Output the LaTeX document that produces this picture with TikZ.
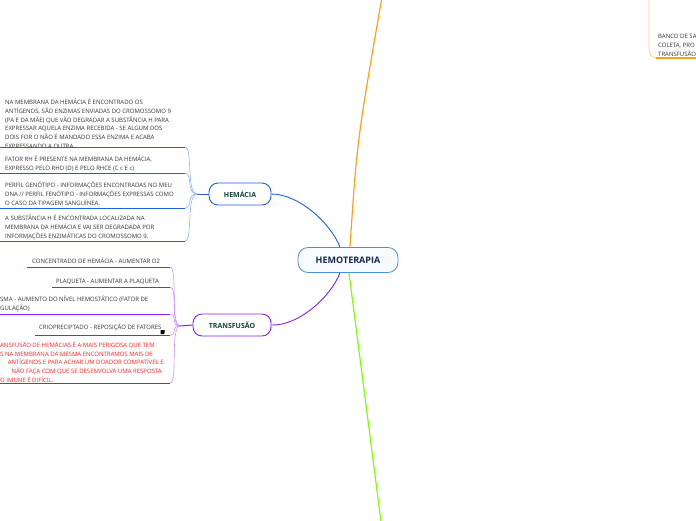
\documentclass[tikz,border=0pt]{standalone}
\usepackage{fontspec}
\setmainfont{Open Sans}
\usepackage{tikz}
\usetikzlibrary{positioning,calc}
\definecolor{hemoblue}{HTML}{4A90D9}
\definecolor{hemofill}{HTML}{F7FBFF}
\definecolor{navytxt}{HTML}{172A4E}
\definecolor{topictxt}{HTML}{17403A}
\definecolor{hblue}{HTML}{1F5FE0}
\definecolor{hfanblue}{HTML}{8FB4FF}
\definecolor{tpurple}{HTML}{8A1EF0}
\definecolor{tfanpurple}{HTML}{CC8FF7}
\definecolor{borange}{HTML}{FF9F1A}
\definecolor{lorange}{HTML}{FFD08A}
\definecolor{lgreen}{HTML}{80FF00}
\definecolor{notered}{HTML}{FF2424}
\definecolor{notetxt}{HTML}{333333}
\tikzset{
  maintopic/.style={draw=hemoblue, line width=0.8pt, rounded corners=10pt,
    fill=hemofill, text=navytxt, font=\bfseries\fontsize{9}{10}\selectfont,
    minimum width=100pt, minimum height=25pt, inner sep=0pt},
  topic/.style={line width=0.9pt, rounded corners=9pt, fill=white,
    text=topictxt, font=\bfseries\fontsize{7}{8}\selectfont,
    minimum height=22pt, inner sep=0pt},
  % base anchor of a multi-line note = baseline of its last line
  note/.style={anchor=base west, align=left, inner sep=0pt, text=notetxt,
    font=\fontsize{6}{8.8}\selectfont},
  hline/.style={hblue, line width=1pt},
  hfan/.style={hfanblue, line width=0.6pt},
  tline/.style={tpurple, line width=1pt},
  tfan/.style={tfanpurple, line width=0.6pt},
}
\begin{document}
\begin{tikzpicture}[x=1pt, y=-1pt]
\useasboundingbox (0,0) rectangle (696,520);
\clip (0,0) rectangle (696,520);

% central topic and main branches
\node[maintopic] (hemo) at (348,260) {HEMOTERAPIA};
\node[topic, draw=hblue, minimum width=62pt] (hem) at (240,194) {HEM\'ACIA};
\node[topic, draw=tpurple, minimum width=78pt] (trans) at (232,325) {TRANSFUS\~AO};
\coordinate (otop) at (385,-20);
\coordinate (gbot) at (384,545);

\draw[hblue, line width=0.9pt] ([xshift=-8pt]hemo.north) .. controls (330,222) and (298,194) .. (hem.east); %
\draw[tpurple, line width=0.9pt] ([xshift=-8pt]hemo.south) .. controls (330,298) and (298,326) .. (trans.east); %
\draw[borange, line width=1.2pt] ([xshift=2pt]hemo.north) .. controls (357,140) .. (otop); %
\draw[lgreen, line width=1.2pt] ([xshift=1pt]hemo.south) -- (gbot); %

% hemacia notes
\coordinate (hb) at (197,194);
\draw[hline] (hem.west) -- (hb);
\node[note] (h1) at (5,148.5) {NA MEMBRANA DA HEM\'ACIA \'E ENCONTRADO OS\\
  ANT\'IGENOS, S\~AO ENZIMAS ENVIADAS DO CROMOSSOMO 9\\
  (PA E DA M\~AE) QUE V\~AO DEGRADAR A SUBST\^ANCIA H PARA\\
  EXPRESSAR AQUELA ENZIMA RECEBIDA - SE ALGUM DOS\\
  DOIS FOR O N\~AO \'E MANDADO ESSA ENZIMA E ACABA\\
  EXPRESSANDO A OUTRA.};
\node[note] (h2) at (5,170) {FATOR RH \'E PRESENTE NA MEMBRANA DA HEM\'ACIA,\\
  EXPRESSO PELO RHD (D) E PELO RHCE (C c E c)};
\node[note] (h3) at (5,205) {PERFIL GEN\'OTIPO - INFORMA\c C\~OES ENCONTRADAS NO MEU\\
  DNA // PERFIL FEN\'OTIPO - INFORMA\c C\~OES EXPRESSAS COMO\\
  O CASO DA TIPAGEM SANGU\'INEA.};
\node[note] (h4) at (5,238) {A SUBST\^ANCIA H \'E ENCONTRADA LOCALIZADA NA\\
  MEMBRANA DA HEM\'ACIA E VAI SER DEGRADADA POR\\
  INFORMA\c C\~OES ENZIM\'ATICAS DO CROMOSSOMO 9.};
\foreach \y/\n in {147/1,173/2,208/3,241/4} {
  \draw[hline] (0,\y) -- (185,\y) coordinate (hu\n);
  \draw[hfan] (hu\n) .. controls +(8,0) and (186,194) .. (hb);
}

% transfusao notes
\coordinate (tb) at (180,326);
\draw[tline] (trans.west) -- (tb);
\node[note] (t1) at (32,263) {CONCENTRADO DE HEM\'ACIA - AUMENTAR O2};
\node[note] (t2) at (56,283) {PLAQUETA - AUMENTAR A PLAQUETA};
\node[note] (t3) at (0,310) {SMA - AUMENTO DO N\'IVEL HEMOST\'ATICO (FATOR DE\\
  GULA\c C\~AO)};
\node[note] (t4) at (39,329) {CRIOPRECIPTADO - REPOSI\c C\~AO DE FATORES};
\fill[black] ([xshift=-1pt,yshift=-1pt]t4.base east) -- ++(4,0) -- ++(0,3) -- ++(-1,1) -- ++(-3,0) -- cycle;
\node[note, text=notered, font=\fontsize{6}{8.6}\selectfont] (t5) at (0,382)
  {ANSFUS\~AO DE HEM\'ACIAS \'E A MAIS PERIGOSA QUE TEM\\
  S NA MEMBRANA DA MESMA ENCONTRAMOS MAIS DE\\
  \hphantom{AA}ANT\'IGENOS E PARA ACHAR UM DOADOR COMPAT\'IVEL E\\
  \hphantom{AAA}N\~AO FA\c CA COM QUE SE DESENVOLVA UMA RESPOSTA\\
  O IMUNE \'E DIF\'ICIL.};
\foreach \x/\y/\n in {27/267/1,52/287/2,0/314/3,35/335/4,0/383/5} {
  \draw[tline] (\x,\y) -- (170,\y) coordinate (tu\n);
  \draw[tfan] (tu\n) .. controls +(8,0) and (170,326) .. (tb);
}

% banco de sangue (top right)
\coordinate (bt) at (649,-10);
\coordinate (bu) at (700,58);
\draw[lorange, line width=0.8pt] (bt) -- (649,48) .. controls (650,56) .. (656,58);
\draw[borange, line width=1.2pt] (656,58) -- (bu);
\node[note] (b1) at (658,56) {BANCO DE SA\\COLETA, PRO\\TRANSFUS\~AO};
\end{tikzpicture}
\end{document}
